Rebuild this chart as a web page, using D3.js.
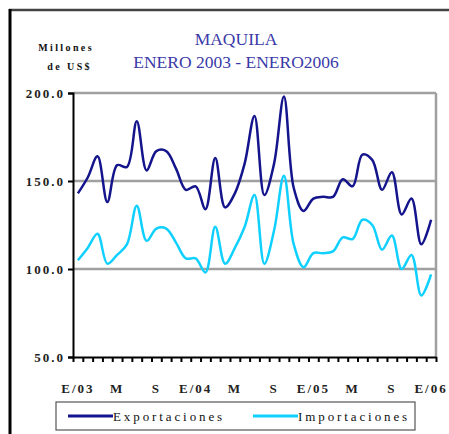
<!DOCTYPE html>
<html>
<head>
<meta charset="utf-8">
<script src="https://cdn.jsdelivr.net/npm/d3@7"></script>
<style>
    body { margin: 0; background: #fff; }
    .axis text { font-family: "Liberation Serif", serif; font-weight: bold; fill: #222; }
</style>
</head>
<body>
<div class="chart"></div>
<script>
// Data: monthly values, Jan 2003 - Jan 2006 (millones de US$)
const exportaciones = [143, 152, 164, 138, 159, 158, 184, 156, 167, 167, 157, 145, 147,
    134, 163, 135, 143, 160, 187, 142, 160, 198, 146, 133, 140, 141, 141, 151, 147,
    165, 162, 145, 155, 131, 140, 114, 128];
const importaciones = [105, 112, 120, 103, 108, 114, 136, 116, 123, 123, 115, 106, 106,
    98, 124, 103, 112, 124, 142, 103, 122, 153, 114, 101, 109, 109, 110, 118, 117,
    128, 125, 111, 119, 100, 108, 85, 97];
const tickLabels = ['E/03', 'M', 'S', 'E/04', 'M', 'S', 'E/05', 'M', 'S', 'E/06'];
const yTicks = [50, 100, 150, 200];

const width = 449, height = 434;

const svg = d3.select('.chart')
    .append('svg')
    .attr('width', width)
    .attr('height', height);

// frame
svg.append('line').attr('x1', 9).attr('x2', width).attr('y1', 10).attr('y2', 10)
    .attr('stroke', '#444').attr('stroke-width', 2.5);
svg.append('line').attr('x1', 10).attr('x2', 10).attr('y1', 9).attr('y2', height)
    .attr('stroke', '#000').attr('stroke-width', 3);

// Scales
const n = exportaciones.length;
const x = d3.scaleBand()
    .domain(d3.range(n))
    .range([73, 436]);
const xEdge = d3.scaleLinear()
    .domain([0, n])
    .range([73, 436]);
const y = d3.scaleLinear()
    .domain([50, 200])
    .range([357, 93]);
const cx = i => x(i) + x.bandwidth() / 2;

// Titles
const title = svg.append('text')
    .attr('text-anchor', 'middle')
    .style('font-family', '"Liberation Serif", serif')
    .style('font-size', '17.5px')
    .style('fill', '#3a3aa8');
title.append('tspan').attr('x', 236).attr('y', 45).text('MAQUILA');
title.append('tspan').attr('x', 236).attr('y', 68).text('ENERO 2003 - ENERO2006');

const unit = svg.append('text')
    .attr('text-anchor', 'end')
    .style('font-family', '"Liberation Serif", serif')
    .style('font-size', '10px')
    .style('font-weight', 'bold')
    .style('letter-spacing', '2.4px')
    .style('fill', '#111');
unit.append('tspan').attr('x', 94).attr('y', 51).text('Millones');
unit.append('tspan').attr('x', 92).attr('y', 70).text('de US$');

// Gridlines + plot border
svg.append('g')
    .selectAll('line')
    .data([100, 150, 200])
    .enter()
    .append('line')
    .attr('x1', 73).attr('x2', 436)
    .attr('y1', d => y(d)).attr('y2', d => y(d))
    .attr('stroke', '#a0a0a0').attr('stroke-width', 2.5);
svg.append('line')
    .attr('x1', 436).attr('x2', 436).attr('y1', y(200)).attr('y2', y(50))
    .attr('stroke', '#a0a0a0').attr('stroke-width', 2.5);

// Axes
const yAxis = d3.axisLeft(y)
    .tickValues(yTicks)
    .tickFormat(d3.format('.1f'))
    .tickSize(5)
    .tickPadding(3);
const yAxisDraw = svg.append('g')
    .attr('class', 'y axis')
    .attr('transform', 'translate(73,0)')
    .call(yAxis);
yAxisDraw.selectAll('text')
    .style('font-size', '13px')
    .style('letter-spacing', '2px');
yAxisDraw.selectAll('line, path').attr('stroke', '#000').attr('stroke-width', 2);

const xTicks = d3.axisBottom(xEdge)
    .tickValues(d3.range(n + 1))
    .tickFormat('')
    .tickSize(5)
    .tickSizeOuter(0);
svg.append('g')
    .attr('class', 'x axis')
    .attr('transform', `translate(0,${y(50)})`)
    .call(xTicks)
    .selectAll('line, path').attr('stroke', '#000').attr('stroke-width', 2);

const xAxis = d3.axisBottom(x)
    .tickValues(d3.range(0, n, 4))
    .tickFormat(i => tickLabels[i / 4])
    .tickSize(0)
    .tickPadding(27);
const xAxisDraw = svg.append('g')
    .attr('class', 'x axis')
    .attr('transform', `translate(0,${y(50)})`)
    .call(xAxis);
xAxisDraw.select('.domain').remove();
xAxisDraw.selectAll('text')
    .style('font-size', '13px')
    .style('letter-spacing', '2px');

// Lines
const line = d3.line()
    .x((d, i) => cx(i))
    .y(d => y(d))
    .curve(d3.curveCatmullRom);

const series = [
    { name: 'Exportaciones', values: exportaciones, color: '#14148c' },
    { name: 'Importaciones', values: importaciones, color: '#10d0ff' }
];

svg.selectAll('.serie')
    .data(series)
    .enter()
    .append('path')
    .attr('class', 'serie')
    .attr('d', d => line(d.values))
    .attr('fill', 'none')
    .attr('stroke', d => d.color)
    .attr('stroke-width', 2.5);

// Legend
const legend = svg.append('g').attr('class', 'legend');
legend.append('rect')
    .attr('x', 56).attr('y', 402).attr('width', 359).attr('height', 28)
    .attr('fill', '#fff').attr('stroke', '#555').attr('stroke-width', 1.2);
const item = legend.selectAll('.item')
    .data(series)
    .enter()
    .append('g')
    .attr('class', 'item')
    .attr('transform', (d, i) => `translate(${68 + i * 185},416)`);
item.append('line')
    .attr('x1', 0).attr('x2', 45)
    .attr('stroke', d => d.color).attr('stroke-width', 3);
item.append('text')
    .attr('x', 45).attr('dy', '0.35em')
    .style('font-family', '"Liberation Serif", serif')
    .style('font-size', '13px')
    .style('letter-spacing', '2.9px')
    .style('fill', '#111')
    .text(d => d.name);
</script>
</body>
</html>
